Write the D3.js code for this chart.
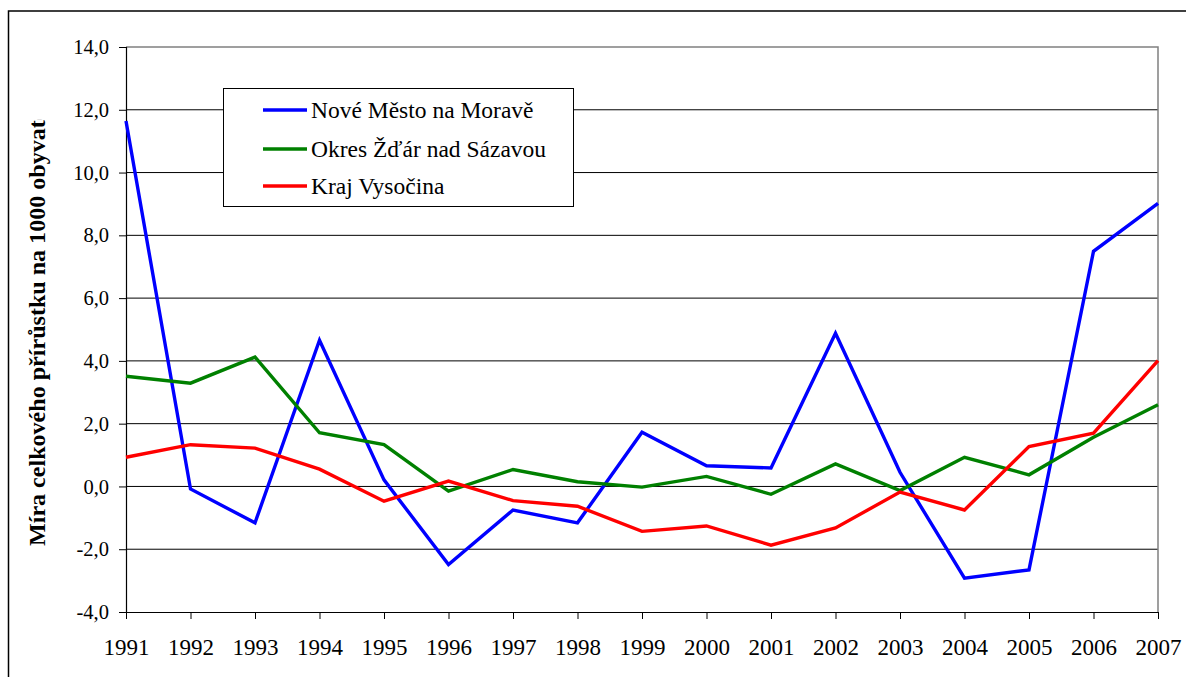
<!DOCTYPE html>
<html>
<head>
<meta charset="utf-8">
<script src="https://cdn.jsdelivr.net/npm/d3@7"></script>
<style>
  html, body { margin: 0; padding: 0; background: #fff; }
  svg { display: block; }
  svg text { font-family: "Liberation Serif", "Times New Roman", "Tinos", "DejaVu Serif", serif !important; }
</style>
</head>
<body>
<svg id="chart" width="1186" height="677"></svg>
<script>
const years = [1991,1992,1993,1994,1995,1996,1997,1998,1999,2000,2001,2002,2003,2004,2005,2006,2007];
const noveMesto = [11.64,-0.08,-1.16,4.66,0.21,-2.49,-0.75,-1.16,1.73,0.66,0.59,4.88,0.45,-2.92,-2.66,7.49,9.02];
const okres = [3.51,3.29,4.12,1.71,1.33,-0.15,0.54,0.15,-0.02,0.32,-0.25,0.72,-0.13,0.93,0.37,1.57,2.60];
const kraj = [0.93,1.33,1.22,0.55,-0.47,0.17,-0.45,-0.63,-1.43,-1.26,-1.87,-1.32,-0.18,-0.75,1.27,1.70,4.01];
const seriesNames = ["Nové Město na Moravě","Okres Žďár nad Sázavou","Kraj Vysočina"];
const seriesColors = ["#0000ff","#008000","#ff0000"];
const yTicks = [-4,-2,0,2,4,6,8,10,12,14];
const yTitle = "Míra celkového přírůstku na 1000 obyvatel";
const yTitleVisible = "Míra celkového přírůstku na 1000 obyvat";

const svg = d3.select("#chart");
const pL = 126, pR = 1158, pT = 47, pB = 612;

const x = d3.scalePoint().domain(years).range([pL, pR]);
const y = d3.scaleLinear().domain([-4, 14]).range([pB, pT]);
const fmt = d => d.toFixed(1).replace(".", ",");

// outer chart border (cropped)
svg.append("rect").attr("x", 8.5).attr("y", 11).attr("width", 1200).attr("height", 700)
  .attr("fill", "none").attr("stroke", "#000").attr("stroke-width", 1.5);

// gridlines
svg.append("g").selectAll("line").data(yTicks.filter(t => t > -4 && t < 14)).join("line")
  .attr("x1", pL).attr("x2", pR)
  .attr("y1", d => y(d)).attr("y2", d => y(d))
  .attr("stroke", "#000").attr("stroke-width", 1);

// plot top/right border (gray)
svg.append("path")
  .attr("d", `M${pL},${pT}H${pR}V${pB}`)
  .attr("fill", "none").attr("stroke", "#808080").attr("stroke-width", 1.5);

// y axis
const yAxis = d3.axisLeft(y).tickValues(yTicks).tickFormat(fmt).tickSize(7).tickPadding(10);
const gy = svg.append("g").attr("transform", `translate(${pL},0)`).call(yAxis);
gy.attr("font-family", null);
gy.select(".domain").attr("stroke", "#000").attr("stroke-width", 1.2);
gy.selectAll(".tick line").attr("stroke", "#000");
gy.selectAll("text").attr("font-size", 20.5).attr("fill", "#000");

// x axis
const xAxis = d3.axisBottom(x).tickSize(7).tickPadding(20).tickSizeOuter(0);
const gx = svg.append("g").attr("transform", `translate(0,${pB})`).call(xAxis);
gx.attr("font-family", null);
gx.select(".domain").attr("stroke", "#000").attr("stroke-width", 1.2);
gx.selectAll(".tick line").attr("stroke", "#000");
gx.selectAll("text").attr("font-size", 23).attr("fill", "#000");

// lines
const allSeries = [noveMesto, okres, kraj];
const line = d3.line().x((d, i) => x(years[i])).y(d => y(d));
svg.append("g").selectAll("path").data(allSeries).join("path")
  .attr("d", d => line(d))
  .attr("fill", "none")
  .attr("stroke", (d, i) => seriesColors[i])
  .attr("stroke-width", 3.4)
  .attr("stroke-linejoin", "miter");

// y title (truncated at top like the source)
const titleStart = 546, titleEnd = 120;
const clipRect = svg.append("clipPath").attr("id", "ytclip").append("rect")
  .attr("x", 0).attr("width", 80).attr("height", 700);
const tNode = svg.append("g").attr("clip-path", "url(#ytclip)")
  .append("text")
  .attr("transform", `translate(45,${titleStart}) rotate(-90)`)
  .attr("text-anchor", "start")
  .attr("font-size", 24).attr("font-weight", "bold")
  .attr("fill", "#000")
  .text(yTitle);
let visLen = tNode.node().getSubStringLength(0, yTitleVisible.length);
const fs = 24 * (titleStart - titleEnd) / visLen;
tNode.attr("font-size", fs);
visLen = tNode.node().getSubStringLength(0, yTitleVisible.length);
clipRect.attr("y", titleStart - visLen - 0.5);

// legend
const lg = svg.append("g");
lg.append("rect").attr("x", 223.5).attr("y", 88.5).attr("width", 350).attr("height", 118)
  .attr("fill", "#fff").attr("stroke", "#000").attr("stroke-width", 1);
const legendY = [110, 149, 186];
seriesNames.forEach((name, i) => {
  lg.append("line").attr("x1", 263).attr("x2", 307)
    .attr("y1", legendY[i]).attr("y2", legendY[i])
    .attr("stroke", seriesColors[i]).attr("stroke-width", 3.4);
  lg.append("text").attr("x", 311).attr("y", legendY[i]).attr("dy", "0.33em")
    .attr("font-size", 23.5).attr("fill", "#000").text(name);
});
</script>
</body>
</html>
